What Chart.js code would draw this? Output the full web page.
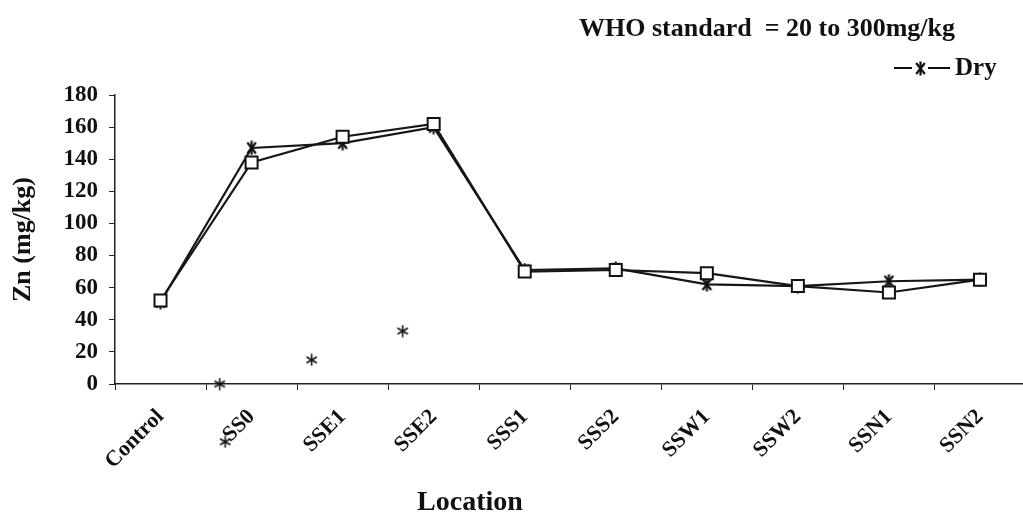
<!DOCTYPE html>
<html>
<head>
<meta charset="utf-8">
<script src="https://cdn.jsdelivr.net/npm/chart.js@4.4.0/dist/chart.umd.min.js"></script>
<style>
  html, body { margin: 0; padding: 0; background: #fff; overflow: hidden; }
  #wrap { width: 1036px; height: 516px; }
</style>
</head>
<body>
<div id="wrap"><canvas id="myChart" width="1036" height="516"></canvas></div>
<script>
// data
const locations = ['Control', 'SS0', 'SSE1', 'SSE2', 'SSS1', 'SSS2', 'SSW1', 'SSW2', 'SSN1', 'SSN2'];
const dryZn = [51, 147, 150, 160, 71, 72, 62, 61, 64, 65];
const wetZn = [52, 138, 154, 162, 70, 71, 69, 61, 57, 65];
const yTicks = [0, 20, 40, 60, 80, 100, 120, 140, 160, 180];
// loose asterisks printed in the plot (x = position in category units)
const strayX = [0.65, 1.66, 2.66, 0.71];
const strayY = [0, 15, 33, -36];

const serif = '"Liberation Serif", "Times New Roman", serif';

function asterisk(size, lw, angles) {
  const c = document.createElement('canvas');
  c.width = size; c.height = size;
  const g = c.getContext('2d');
  g.strokeStyle = '#111';
  g.lineWidth = lw;
  const m = size / 2, r = size / 2 - 0.5;
  angles.forEach(a => {
    const t = a * Math.PI / 180;
    g.beginPath();
    g.moveTo(m - r * Math.cos(t), m - r * Math.sin(t));
    g.lineTo(m + r * Math.cos(t), m + r * Math.sin(t));
    g.stroke();
  });
  return c;
}

const dryMark = asterisk(15, 2.2, [90, 52, 128]);
const strayMark = asterisk(13, 1.6, [90, 30, 150]);

const strayPoints = strayX.map((x, i) => ({ x: x, y: strayY[i] }));

// title, legend, axis title, and stray marks that fall outside the plot area
const extras = {
  id: 'extras',
  afterDraw(chart) {
    const ctx = chart.ctx;
    const area = chart.chartArea;
    const sx = chart.scales.x2, sy = chart.scales.y;
    ctx.save();
    strayPoints.forEach(p => {
      const px = sx.getPixelForValue(p.x), py = sy.getPixelForValue(p.y);
      if (py > area.bottom + 6) {
        ctx.drawImage(strayMark, px - strayMark.width / 2, py - strayMark.height / 2);
      }
    });

    ctx.fillStyle = '#111';
    ctx.textBaseline = 'middle';
    ctx.font = 'bold 26px ' + serif;
    ctx.textAlign = 'right';
    ctx.fillText('WHO standard  = 20 to 300mg/kg', 955, 29);

    ctx.strokeStyle = '#111';
    ctx.lineWidth = 2;
    ctx.beginPath();
    ctx.moveTo(894, 68);
    ctx.lineTo(950, 68);
    ctx.stroke();
    ctx.fillStyle = '#fff';
    ctx.fillRect(912, 60, 16, 16);
    ctx.drawImage(dryMark, 913, 61);
    ctx.fillStyle = '#111';
    ctx.textAlign = 'left';
    ctx.font = 'bold 25px ' + serif;
    ctx.fillText('Dry', 955, 69);

    ctx.font = 'bold 28px ' + serif;
    ctx.textAlign = 'center';
    ctx.fillText('Location', 470, 503);
    ctx.restore();
  }
};

new Chart(document.getElementById('myChart'), {
  type: 'line',
  data: {
    labels: locations,
    datasets: [
      {
        label: 'Wet',
        data: wetZn,
        order: 1,
        borderColor: '#161616',
        borderWidth: 2.2,
        pointStyle: 'rect',
        pointRadius: 8.5,
        pointBorderWidth: 2,
        pointBackgroundColor: '#fff',
        pointBorderColor: '#111'
      },
      {
        label: 'Dry',
        data: dryZn,
        order: 2,
        borderColor: '#161616',
        borderWidth: 2.2,
        pointStyle: dryMark
      },
      {
        type: 'scatter',
        label: 'stray',
        data: strayPoints,
        xAxisID: 'x2',
        order: 3,
        clip: false,
        pointStyle: strayMark
      }
    ]
  },
  options: {
    responsive: false,
    animation: false,
    layout: { padding: { top: 95, right: 5, bottom: 0, left: 0 } },
    plugins: {
      legend: { display: false },
      tooltip: { enabled: false }
    },
    scales: {
      x: {
        offset: true,
        grid: { offset: true, drawOnChartArea: false, tickLength: 6, color: '#222' },
        border: { color: '#222', width: 1.5 },
        ticks: {
          maxRotation: 45, minRotation: 45, padding: 14,
          color: '#111',
          font: { family: serif, size: 22, weight: 'bold' }
        },
        afterFit(scale) { scale.height = 132; }
      },
      x2: {
        type: 'linear',
        display: false,
        min: -0.5,
        max: 9.5
      },
      y: {
        min: 0,
        max: 180,
        afterBuildTicks(scale) { scale.ticks = yTicks.map(v => ({ value: v })); },
        grid: { drawOnChartArea: false, tickLength: 6, color: '#222' },
        border: { color: '#222', width: 1.5 },
        ticks: {
          padding: 11,
          color: '#111',
          font: { family: serif, size: 23, weight: 'bold' }
        },
        title: {
          display: true,
          text: 'Zn (mg/kg)',
          color: '#111',
          padding: { top: 8, bottom: 0 },
          font: { family: serif, size: 26, weight: 'bold' }
        },
        afterFit(scale) { scale.width = 115; }
      }
    }
  },
  plugins: [extras]
});
</script>
</body>
</html>
